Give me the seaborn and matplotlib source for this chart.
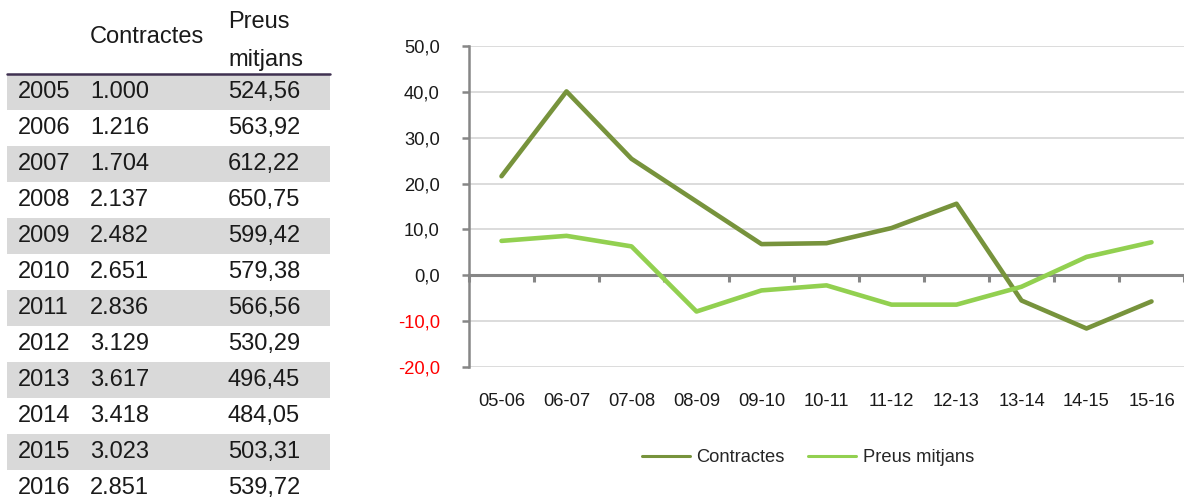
import matplotlib
matplotlib.use("Agg")
import matplotlib.pyplot as plt
from matplotlib.patches import Rectangle
from matplotlib.lines import Line2D
import pandas as pd
import seaborn as sns

# Table data
years = [2005, 2006, 2007, 2008, 2009, 2010, 2011, 2012, 2013, 2014, 2015, 2016]
contractes = [1000, 1216, 1704, 2137, 2482, 2651, 2836, 3129, 3617, 3418, 3023, 2851]
preus = [524.56, 563.92, 612.22, 650.75, 599.42, 579.38, 566.56, 530.29, 496.45, 484.05, 503.31, 539.72]

# Year-on-year variation (%)
periodes = ["05-06", "06-07", "07-08", "08-09", "09-10", "10-11",
            "11-12", "12-13", "13-14", "14-15", "15-16"]
var_contractes = [21.6, 40.1, 25.4, 16.1, 6.8, 7.0, 10.3, 15.6, -5.5, -11.6, -5.7]
var_preus = [7.5, 8.6, 6.3, -7.9, -3.3, -2.2, -6.4, -6.4, -2.5, 4.0, 7.2]

y_ticks = [-20, -10, 0, 10, 20, 30, 40, 50]

sns.set_theme(style="white")
plt.rcParams["font.family"] = ["Liberation Sans", "DejaVu Sans"]

W, H = 1184, 500
fig = plt.figure(figsize=(W / 100, H / 100), dpi=100)

# ---------- table ----------
tfont = dict(fontsize=17, color="#1a1a1a")
col_year, col_c, col_p = 18, 90, 228
tbl_left, tbl_right = 7, 330
header_line_y = 74
row_h = 36

def fx(px):
    return px / W

def fy(py):
    return 1 - py / H

fig.text(fx(col_c), fy(37), "Contractes", va="center", ha="left", **tfont)
fig.text(fx(col_p), fy(22), "Preus", va="center", ha="left", **tfont)
fig.text(fx(col_p), fy(60), "mitjans", va="center", ha="left", **tfont)

for i, (yr, c, p) in enumerate(zip(years, contractes, preus)):
    top = header_line_y + i * row_h
    if i % 2 == 0:
        fig.patches.append(Rectangle((fx(tbl_left), fy(top + row_h)),
                                     fx(tbl_right - tbl_left), row_h / H,
                                     transform=fig.transFigure,
                                     facecolor="#d9d9d9", edgecolor="none", zorder=0))
    cy = fy(top + row_h / 2)
    c_txt = f"{c:,}".replace(",", ".")
    p_txt = f"{p:.2f}".replace(".", ",")
    fig.text(fx(col_year), cy, str(yr), va="center", ha="left", **tfont)
    fig.text(fx(col_c), cy, c_txt, va="center", ha="left", **tfont)
    fig.text(fx(col_p), cy, p_txt, va="center", ha="left", **tfont)

fig.lines.append(Line2D([fx(tbl_left), fx(tbl_right)], [fy(header_line_y)] * 2,
                        transform=fig.transFigure, color="#3f3151", linewidth=1.8))

# ---------- line chart ----------
ax_left, ax_bottom, ax_top = 469, 367, 46
ax = fig.add_axes([fx(ax_left), fy(ax_bottom), 1 - fx(ax_left), (ax_bottom - ax_top) / H])

df = pd.DataFrame({
    "periode": periodes * 2,
    "valor": var_contractes + var_preus,
    "serie": ["Contractes"] * len(periodes) + ["Preus mitjans"] * len(periodes),
})
palette = {"Contractes": "#77933c", "Preus mitjans": "#92d050"}
sns.lineplot(data=df, x="periode", y="valor", hue="serie", palette=palette,
             linewidth=3.3, ax=ax, legend=False, sort=False, zorder=3)

chart_fs = 13.2
ax.set_ylim(-20, 50)
ax.set_xlim(-0.5, -0.5 + (W - ax_left) / 66)
ax.set_yticks(y_ticks)
ax.set_yticklabels([f"{v:.1f}".replace(".", ",") for v in y_ticks], fontsize=chart_fs)
for lbl, v in zip(ax.get_yticklabels(), y_ticks):
    lbl.set_color("#ff0000" if v < 0 else "#1a1a1a")
ax.grid(axis="y", color="#d9d9d9", linewidth=1.3)
ax.grid(axis="x", visible=False)
ax.set_xlabel("")
ax.set_ylabel("")

for s in ["top", "right"]:
    ax.spines[s].set_visible(False)
ax.spines["left"].set_color("#868686")
ax.spines["left"].set_linewidth(1.8)
ax.spines["bottom"].set_position(("data", 0))
ax.spines["bottom"].set_color("#868686")
ax.spines["bottom"].set_linewidth(2.2)
ax.spines["bottom"].set_zorder(2)

ax.tick_params(axis="y", direction="out", length=5, width=1.8, color="#868686",
               pad=16, left=True)
ax.set_xticks([i - 0.5 for i in range(len(periodes) + 1)])
ax.set_xticklabels([])
ax.tick_params(axis="x", direction="out", length=5, width=2.2, color="#868686", bottom=True)

sec = ax.secondary_xaxis("bottom")
sec.set_xticks(range(len(periodes)))
sec.set_xticklabels(periodes, fontsize=chart_fs, color="#1a1a1a")
sec.tick_params(length=0, pad=19)
sec.spines["bottom"].set_visible(False)

handles = [Line2D([], [], color=palette[k], linewidth=2.2) for k in palette]
fig.legend(handles, list(palette.keys()), loc="center",
           bbox_to_anchor=(fx(808), fy(458)), ncol=2, frameon=False,
           fontsize=chart_fs, handlelength=2.6, handletextpad=0.35, columnspacing=1.3)

fig.savefig("out.png", dpi=100)
